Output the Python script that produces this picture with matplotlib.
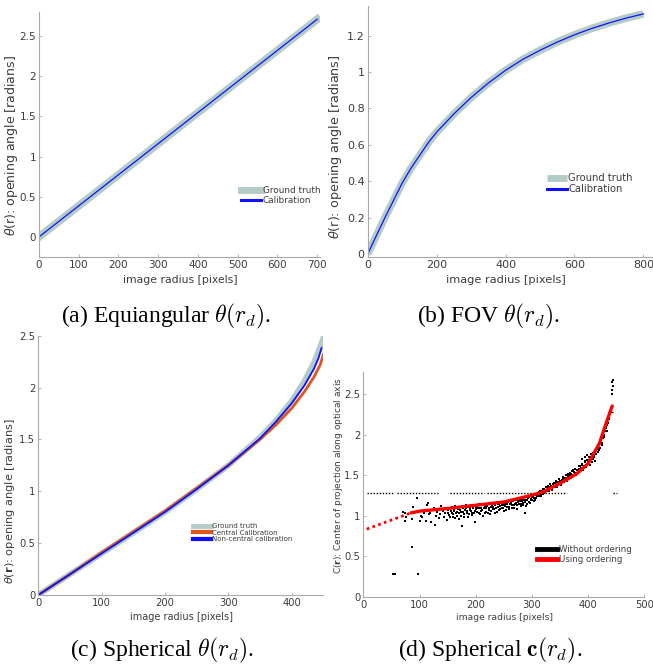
# -*- coding: utf-8 -*-

# calibration curves: equiangular, FOV and spherical lens

import numpy as np
import matplotlib.pyplot as plt
plt.close('all')

#  data ->
r_equi = [0, 700]
theta_equi_gt = [0, 2.71]
theta_equi_cal = [0, 2.71]

r_fov = [0, 25, 50, 75, 100, 125, 150, 175, 200, 250, 300, 350, 400, 450, 500, 550, 600,
         650, 700, 750, 800]
theta_fov_gt = [0, 0.1, 0.2, 0.295, 0.39, 0.47, 0.54, 0.61, 0.67, 0.77, 0.86, 0.94, 1.01,
                1.07, 1.12, 1.165, 1.205, 1.24, 1.27, 1.297, 1.32]
theta_fov_cal = theta_fov_gt

r_sph = [0, 50, 100, 150, 200, 250, 300, 350, 375, 400, 420, 435, 445, 450]
theta_sph_gt = [0, 0.2, 0.4, 0.6, 0.8, 1.02, 1.25, 1.52, 1.68, 1.87, 2.06, 2.24, 2.39, 2.48]
r_sph_c = [0, 50, 100, 150, 200, 250, 300, 350, 375, 400, 420, 435, 445, 450]
theta_sph_central = [0, 0.2, 0.41, 0.61, 0.81, 1.03, 1.25, 1.5, 1.64, 1.8, 1.96, 2.1, 2.22, 2.32]
r_sph_nc = [0, 50, 100, 150, 200, 250, 300, 350, 375, 400, 420, 435, 442, 447]
theta_sph_noncentral = [0, 0.2, 0.4, 0.6, 0.8, 1.02, 1.25, 1.51, 1.67, 1.85, 2.02, 2.18, 2.28, 2.38]

#  center of projection, using ordering
r_ord_lin = [6, 85]
c_ord_lin = [0.835, 1.036]
r_ord = [85, 100, 150, 200, 250, 300, 320, 350, 380, 400, 410, 420, 430, 440, 443]
c_ord = [1.036, 1.057, 1.09, 1.13, 1.17, 1.254, 1.295, 1.40, 1.52, 1.645, 1.77, 1.89, 2.1, 2.30, 2.356]

#  center of projection, without ordering (scattered estimates)
r_noord = [71, 74, 74, 76, 86, 89, 95, 100, 102, 105, 108,
           112, 113, 115, 117, 119, 121, 124, 126, 127, 129, 131, 133, 135, 137, 139, 141, 143, 145, 147, 149,
           151, 153, 155, 157, 159, 161, 163, 165, 167, 169, 171, 173, 175, 177, 179, 181, 183, 185, 187, 189,
           191, 193, 195, 197, 199,
           201, 203, 205, 207, 209, 211, 213, 215, 217, 219, 221, 223, 225, 227, 229, 231, 233, 235, 237, 239,
           241, 243, 245, 247, 249, 251, 253, 255, 257, 259,
           261, 263, 265, 267, 269, 271, 273, 275, 277, 279, 281, 283, 285, 287, 289, 291, 293, 295, 297, 299,
           301, 303, 305, 307, 309,
           311, 313, 315, 317, 319, 321, 323, 325, 327, 329, 331, 333, 335, 337, 339, 341, 343, 345, 347, 349,
           351, 353, 355, 357, 359,
           361, 363, 365, 367, 369, 371, 373, 375, 377, 379, 381, 383, 385, 387, 389, 391, 393, 395, 397, 399,
           394, 390, 398,
           401, 403, 405, 407, 409, 411, 413, 415, 417, 419, 421, 423, 425, 427, 429, 431, 433, 435, 437, 438,
           440, 412, 418,
           53, 57, 98, 87, 443, 443, 444, 443, 444]
c_noord = [1.05, 1.04, 0.93, 0.98, 0.96, 1.11, 1.22, 0.94, 1.00, 0.99, 1.03,
           0.94, 1.13, 1.16, 1.02, 1.04, 0.92, 1.07, 1.10, 0.88, 1.00, 1.05, 1.08, 0.97, 1.02, 1.12, 1.06, 0.99,
           1.04, 1.09, 0.95,
           1.07, 1.01, 1.10, 1.03, 0.98, 1.06, 1.12, 1.04, 1.00, 1.08, 0.96, 1.05, 0.87, 1.10, 1.02, 1.07, 1.13,
           1.04, 0.99, 1.09, 1.06, 1.01, 1.11, 1.04, 0.92,
           1.08, 1.12, 1.03, 1.10, 1.06, 1.14, 1.00, 1.09, 1.12, 1.05, 1.15, 1.07, 1.02, 1.11, 1.13, 1.08, 1.16,
           1.04, 1.10, 1.14, 1.07, 1.12, 1.17, 1.09, 1.13, 1.06, 1.15, 1.11, 1.18, 1.08,
           1.14, 1.17, 1.10, 1.19, 1.13, 1.16, 1.08, 1.20, 1.14, 1.18, 1.12, 1.21, 1.16, 1.03, 1.19, 1.15, 1.22,
           1.17, 1.24, 1.20, 1.23, 1.18, 1.26, 1.22, 1.25,
           1.27, 1.24, 1.30, 1.26, 1.33, 1.28, 1.31, 1.35, 1.30, 1.37, 1.33, 1.39, 1.32, 1.36, 1.41, 1.35, 1.43,
           1.38, 1.41, 1.46, 1.40, 1.44, 1.48, 1.42, 1.47,
           1.50, 1.45, 1.49, 1.53, 1.47, 1.55, 1.50, 1.54, 1.58, 1.51, 1.56, 1.61, 1.55, 1.59, 1.64, 1.57, 1.62,
           1.68, 1.60, 1.66, 1.73, 1.70, 1.75,
           1.69, 1.63, 1.73, 1.67, 1.78, 1.72, 1.80, 1.85, 1.79, 1.90, 1.84, 1.95, 1.90, 2.02, 1.97, 2.08, 2.05,
           2.15, 2.20, 2.26, 2.30, 1.68, 1.82,
           0.28, 0.28, 0.28, 0.61, 2.50, 2.55, 2.60, 2.65, 2.68]
r_noord_b = [150, 152, 154, 156, 158, 160, 162, 164, 166, 168, 170, 172, 174, 176, 178, 180, 182, 184,
             186, 188, 190, 192, 194, 196, 198,
             200, 202, 204, 206, 208, 210, 212, 214, 216, 218, 220, 222, 224, 226, 228, 230, 232, 234,
             236, 238, 240, 242, 244, 246, 248, 250, 252, 254, 256, 258, 260, 262, 264, 266, 268, 270,
             272, 274, 276, 278, 280, 282, 284, 286, 288, 290, 292, 294, 296, 298,
             300, 302, 304, 306, 308, 310, 312, 314, 316, 318, 320, 322, 324, 326, 328, 330, 332, 334,
             336, 338, 340, 342, 344, 346, 348, 350, 352, 354, 356, 358, 360, 362, 364, 366, 368, 370,
             372, 374, 376, 378, 380, 382, 384, 386, 388, 390, 392, 394, 396, 398, 400, 402, 404, 406,
             408, 410, 412, 414, 416, 418, 420, 422, 424, 426, 428, 430, 432, 434, 436, 438, 439]
c_noord_b = [1.04, 1.09, 0.99, 1.06, 1.11, 1.02, 1.08, 0.97, 1.05, 1.10, 1.03, 1.07, 1.00, 1.12, 1.05,
             0.98, 1.09, 1.06, 1.11, 1.02, 1.07, 1.13, 1.04, 1.09, 1.06,
             1.11, 1.05, 1.09, 1.14, 1.02, 1.10, 1.07, 1.13, 1.04, 1.09, 1.12, 1.03, 1.10, 1.15, 1.06,
             1.11, 1.08, 1.13, 1.16, 1.05, 1.11, 1.15, 1.08, 1.13, 1.10, 1.16, 1.12, 1.07, 1.14, 1.17,
             1.11, 1.16, 1.13, 1.18, 1.10, 1.15, 1.19, 1.13, 1.17, 1.21, 1.15, 1.18, 1.13, 1.20, 1.17,
             1.12, 1.19, 1.23, 1.16, 1.21,
             1.19, 1.25, 1.22, 1.20, 1.27, 1.24, 1.29, 1.27, 1.24, 1.30, 1.27, 1.33, 1.29, 1.32, 1.36,
             1.30, 1.35, 1.37, 1.33, 1.39, 1.37, 1.40, 1.36, 1.42, 1.39, 1.43, 1.38, 1.42, 1.46, 1.44,
             1.47, 1.43, 1.52, 1.48, 1.50, 1.52, 1.48, 1.56, 1.53, 1.50, 1.57, 1.53, 1.58, 1.62, 1.56,
             1.63, 1.60, 1.66, 1.63, 1.69, 1.64, 1.72, 1.68, 1.76, 1.70, 1.74, 1.79, 1.76, 1.83, 1.87,
             1.81, 1.92, 1.87, 1.96, 2.00, 2.05, 2.10, 2.12, 2.18, 2.22, 2.27]

#  constant estimates (horizontal runs of points)
c_const = 1.28
const_runs = [(6, 53), (60, 135), (155, 215), (220, 360), (444, 452)]
c_top = 2.28
top_run = (436, 444)
#  <- data

W, H = 653, 664
gt_color = '#b4ccc8'
text_color = '#3c3c3c'
spine_color = '#a8a8a8'

fig = plt.figure(figsize=(W / 100, H / 100), dpi=100)


def px_axes(left, top, right, bottom):
    return fig.add_axes([left / W, 1 - bottom / H, (right - left) / W, (bottom - top) / H])


def style(ax, tick_size):
    for s in ['top', 'right']:
        ax.spines[s].set_visible(False)
    for s in ['left', 'bottom']:
        ax.spines[s].set_color(spine_color)
        ax.spines[s].set_linewidth(0.8)
    ax.tick_params(direction='in', length=2.5, width=0.6, color=spine_color,
                   labelsize=tick_size, labelcolor=text_color, pad=2.2)
    ax.yaxis.set_major_formatter(plt.FuncFormatter(lambda v, p: '%g' % v))


def labels(ax, xl, yl, xpos, ypos, xsize, ysize):
    ax.set_xlabel(xl, fontsize=xsize, color=text_color, va='center')
    ax.set_ylabel(yl, fontsize=ysize, color=text_color, va='center')
    ax.xaxis.set_label_coords(xpos[0] / W, 1 - xpos[1] / H, transform=fig.transFigure)
    ax.yaxis.set_label_coords(ypos[0] / W, 1 - ypos[1] / H, transform=fig.transFigure)


def legend(ax, x, y, size, hl, widths):
    leg = ax.legend(loc='center left', bbox_to_anchor=(x / W, 1 - y / H),
                    bbox_transform=fig.transFigure, frameon=False, fontsize=size,
                    handlelength=hl, handletextpad=0.15, labelspacing=0.1,
                    borderpad=0, borderaxespad=0)
    for t in leg.get_texts():
        t.set_color(text_color)
    for line, w in zip(leg.get_lines(), widths):
        line.set_linewidth(w)
    return leg


#  (a) equiangular
ax = px_axes(39, 12, 320, 257)
ax.plot(r_equi, theta_equi_gt, color=gt_color, lw=5.7, label='Ground truth')
ax.plot(r_equi, theta_equi_cal, color='#1010ff', lw=0.9, label='Calibration')
ax.set_xlim(0, 707)
ax.set_ylim(-0.25, 2.8)
ax.set_xticks(np.arange(0, 701, 100))
ax.set_yticks(np.arange(0, 2.51, 0.5))
style(ax, 7.5)
labels(ax, 'image radius [pixels]', r'$\theta$(r): opening angle [radians]',
       (180, 280), (12, 146), 7.8, 9)
legend(ax, 241, 195.5, 6.4, 2.3, [5, 2.2])

#  (b) FOV
ax = px_axes(367.7, 6, 653, 257)
ax.plot(r_fov, theta_fov_gt, color=gt_color, lw=5.5, label='Ground truth',
        solid_capstyle='butt')
ax.plot(r_fov, theta_fov_cal, color='#1010ff', lw=0.9, label='Calibration')
ax.set_xlim(0, 828)
ax.set_ylim(-0.0165, 1.3635)
ax.set_xticks(np.arange(0, 801, 200))
ax.set_yticks(np.arange(0, 1.21, 0.2))
style(ax, 8)
labels(ax, 'image radius [pixels]', r'$\theta$(r): opening angle [radians]',
       (506, 280), (335, 147), 8.2, 9.2)
legend(ax, 546.7, 183.5, 7.2, 2.0, [5, 2.2])

#  (c) spherical theta
ax = px_axes(38.3, 335.7, 323.4, 595)
ax.plot(r_sph, theta_sph_gt, color=gt_color, lw=4.2, label='Ground truth')
ax.plot(r_sph_c, theta_sph_central, color='#e0561a', lw=2.0, label='Central Calibration')
ax.plot(r_sph_nc, theta_sph_noncentral, color='#1010ff', lw=1.3, label='Non-central calibration')
ax.set_xlim(0, 450)
ax.set_ylim(0, 2.5)
ax.set_xticks(np.arange(0, 401, 100))
ax.set_yticks(np.arange(0, 2.51, 0.5))
style(ax, 7.2)
labels(ax, 'image radius [pixels]', r'$\theta(\mathbf{r})$: opening angle [radians]',
       (181, 617), (10.5, 500.8), 7.0, 8.2)
legend(ax, 192.7, 532.7, 5.0, 2.6, [3.5, 3, 3])

#  (d) spherical center of projection
ax = px_axes(363.3, 371.7, 644.3, 596.7)
ax.scatter(r_noord, c_noord, s=1.4, marker='s', color='k', linewidths=0)
ax.scatter(r_noord_b, c_noord_b, s=1.4, marker='s', color='k', linewidths=0)
for a, b in const_runs:
    ax.hlines(c_const, a, b, color='k', lw=1.0, linestyles=(0, (1, 1.2)))
ax.hlines(c_top, top_run[0], top_run[1], color='k', lw=0.8)
ax.plot(r_ord_lin, c_ord_lin, color='#ff0000', lw=2.0, ls=(0, (1, 1.2)))
ax.plot(r_ord, c_ord, color='#ff0000', lw=2.4, solid_capstyle='round')
ax.plot([], [], color='k', lw=3, label='Without ordering')
ax.plot([], [], color='#ff0000', lw=3, label='Using ordering')
ax.set_xlim(0, 500)
ax.set_ylim(0, 2.78)
ax.set_xticks(np.arange(0, 501, 100))
ax.set_yticks(np.arange(0, 2.51, 0.5))
style(ax, 7.2)
labels(ax, 'image radius [pixels]', r'C($\mathbf{r}$): Center of projection along optical axis',
       (504, 617.5), (338.3, 475.8), 6.6, 6.5)
legend(ax, 536.7, 554.7, 6.2, 2.4, [3.5, 3.5])

#  captions
caps = [(166, 316, r'(a) Equiangular $\theta(r_d)$.'),
        (489, 316, r'(b) FOV $\theta(r_d)$.'),
        (162, 650, r'(c) Spherical $\theta(r_d)$.'),
        (490, 650, r'(d) Spherical $\mathbf{c}(r_d)$.')]
for x, y, s in caps:
    fig.text(x / W, 1 - y / H, s, ha='center', va='center', fontsize=17,
             family='Liberation Serif', math_fontfamily='cm', color='k')

plt.savefig('out.png', dpi=100)
